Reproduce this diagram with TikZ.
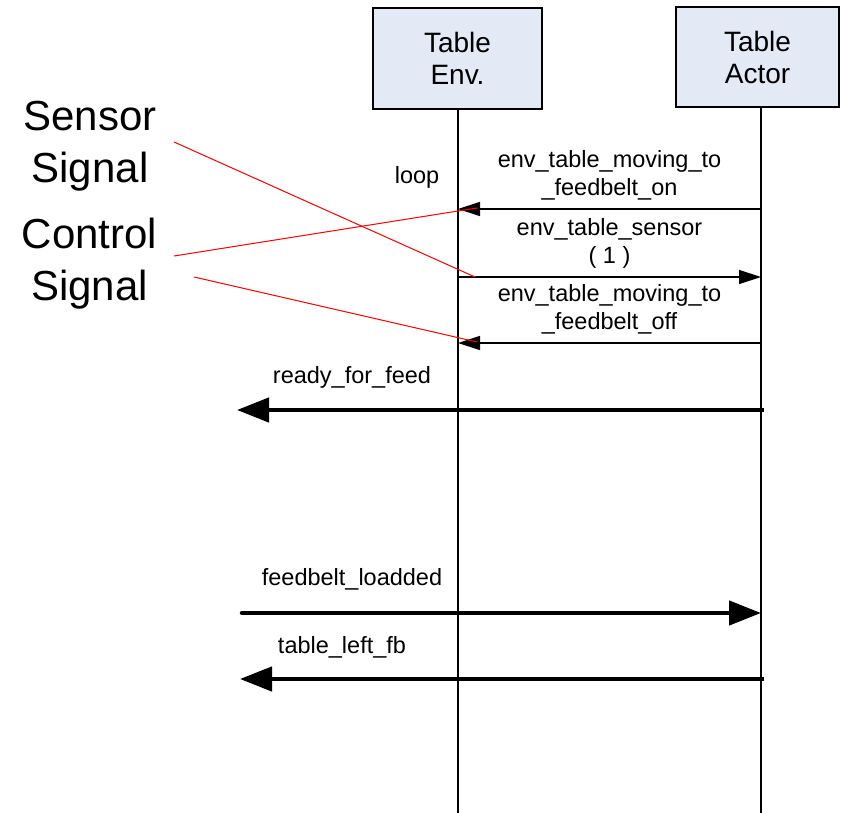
\documentclass[tikz,border=0pt]{standalone}
\usepackage{fontspec}
\setmainfont{Liberation Sans}
\usetikzlibrary{arrows.meta}
\usetikzlibrary{positioning}

\definecolor{boxfill}{RGB}{227,234,246}

\begin{document}
\begin{tikzpicture}
                [x=1pt, y=-1pt,
                 lifebox/.style={draw, line width=2pt, fill=boxfill, align=center, inner sep=0pt,
                   font=\fontsize{28}{32}\selectfont},
                 lifeline/.style={line width=2.5pt},
                 msg/.style={line width=1.3pt, -{Triangle[length=22pt, width=14pt]}},
                 bigmsg/.style={line width=4.5pt, -{Triangle[length=32pt, width=24pt]}},
                 lbl/.style={align=center, inner sep=0pt, font=\fontsize{23.5}{28}\selectfont},
                 note/.style={align=center, inner sep=0pt, font=\fontsize{42}{52}\selectfont},
                 pointer/.style={red, line width=1pt}]
                \useasboundingbox (0,0) rectangle (841,813);
                % heads
                \node[lifebox, minimum width=169pt, minimum height=101pt] (env) at (457.5,58.5) {Table\\Env.};
                \node[lifebox, minimum width=163pt, minimum height=100pt] (actor) at (757.5,57) {Table\\Actor};
                \coordinate (envtop) at (458,109);
                \coordinate (envbot) at (458,813);
                \coordinate (actortop) at (761,107);
                \coordinate (actorbot) at (761,813);
                \draw[lifeline] (envtop) -- (envbot);
                \draw[lifeline] (actortop) -- (actorbot);
                % points on the lifelines
                \coordinate (a1) at (761,209);
                \coordinate (e1) at (458,209);
                \coordinate (e2) at (459,277);
                \coordinate (a2) at (761,277);
                \coordinate (a3) at (761,343);
                \coordinate (e3) at (458,343);
                \coordinate (a4) at (764,410);
                \coordinate (l4) at (237,410);
                \coordinate (l5) at (242,613);
                \coordinate (a5) at (761,613);
                \coordinate (a6) at (764,679);
                \coordinate (l6) at (240,679);
                % messages
                \draw[msg] (a1) -- (e1);
                \draw[msg] (e2) -- (a2);
                \draw[msg] (a3) -- (e3);
                \draw[bigmsg] (a4) -- (l4);
                \draw[bigmsg, line cap=round] (l5) -- (a5);
                \draw[bigmsg] (a6) -- (l6);
                \node[lbl] (m1) at (609.5,175) {env\_table\_moving\_to\\\_feedbelt\_on};
                \node[lbl] (m2) at (609.5,243) {env\_table\_sensor\\( 1 )};
                \node[lbl] (m3) at (609.5,309) {env\_table\_moving\_to\\\_feedbelt\_off};
                \node[lbl] (loop) at (417,177) {loop};
                \node[lbl] (m4) at (352,377) {ready\_for\_feed};
                \node[lbl] (m5) at (352,579) {feedbelt\_loadded};
                \node[lbl] (m6) at (342,647) {table\_left\_fb};
                % notes
                \node[note] (sensor) at (90,146) {Sensor\\Signal};
                \node[note] (control) at (89.5,264) {Control\\Signal};
                \coordinate (s1) at (174,142);
                \coordinate (c1) at (174,256);
                \coordinate (c2) at (194,277);
                \coordinate (s1end) at (475,277);
                \coordinate (c1end) at (477,208);
                \coordinate (c2end) at (477,342);
                \draw[pointer] (s1) -- (s1end);
                \draw[pointer] (c1) -- (c1end);
                \draw[pointer] (c2) -- (c2end);
            \end{tikzpicture}
\end{document}
